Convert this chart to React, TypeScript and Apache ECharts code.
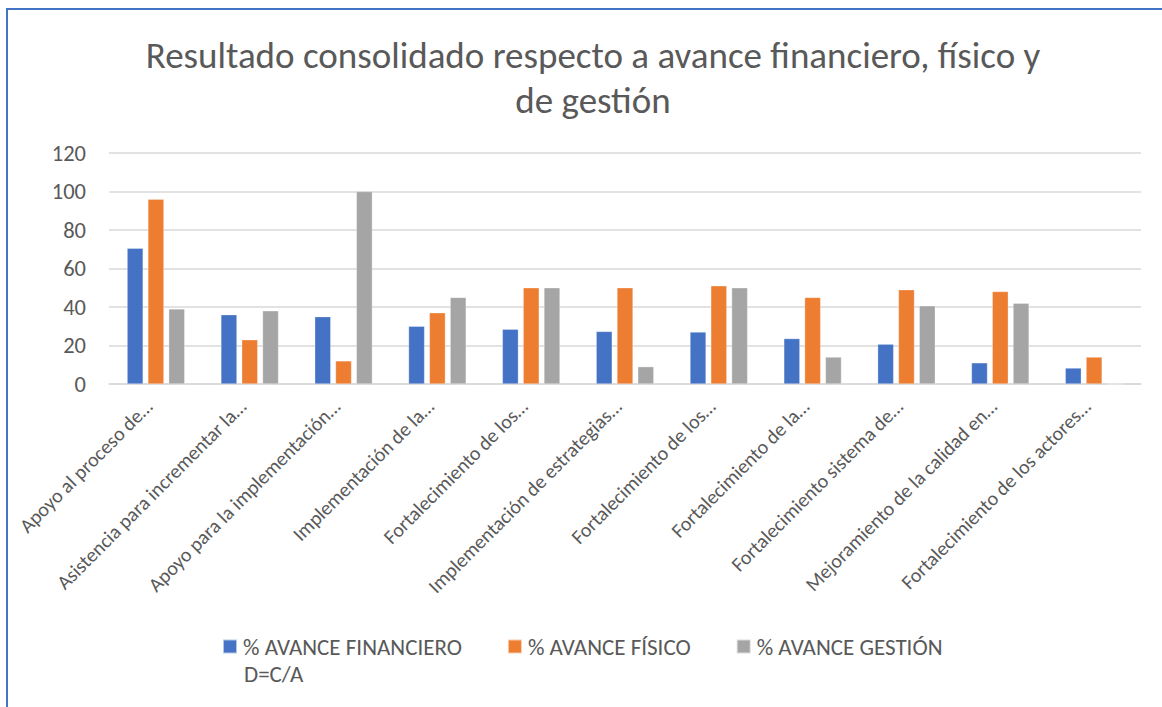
import React, { useEffect, useRef } from "react";
import * as echarts from "echarts";

const categories = [
  "Apoyo al proceso de…",
  "Asistencia para incrementar la…",
  "Apoyo para la implementación…",
  "Implementación de la…",
  "Fortalecimiento de los…",
  "Implementación de estrategias…",
  "Fortalecimiento de los…",
  "Fortalecimiento de la…",
  "Fortalecimiento sistema de…",
  "Mejoramiento de la calidad en…",
  "Fortalecimiento de los actores…",
];

const financiero = [70.5, 36, 35, 30, 28.5, 27.3, 27, 23.6, 20.7, 11, 8.3];
const fisico = [96, 23, 12, 37, 50, 50, 51, 45, 49, 48, 14];
const gestion = [39, 38, 100, 45, 50, 9, 50, 14, 40.6, 42, 0];

const yTicks = [0, 20, 40, 60, 80, 100, 120];

const seriesNames = ["% AVANCE FINANCIERO", "% AVANCE FÍSICO", "% AVANCE GESTIÓN"];
const colors = ["#4472c4", "#ed7d31", "#a5a5a5"];

const FONT = "Carlito, 'Liberation Sans Narrow', 'Open Sans', sans-serif";

export default function App() {
  const ref = useRef<HTMLDivElement>(null);
  useEffect(() => {
    if (!ref.current) return;
    const chart = echarts.init(ref.current, undefined, { renderer: "svg" });
    const data = [financiero, fisico, gestion];
    chart.setOption({
      animation: false,
      backgroundColor: "#ffffff",
      title: {
        text: "Resultado consolidado respecto a avance financiero, físico y\nde gestión",
        left: 588,
        textAlign: "center",
        top: 28,
        textStyle: {
          fontFamily: FONT,
          fontSize: 37,
          fontWeight: "normal",
          color: "#595959",
          lineHeight: 45,
        },
      },
      legend: {
        left: 217,
        top: 630,
        itemWidth: 14,
        itemHeight: 14,
        itemGap: 45,
        icon: "rect",
        textStyle: { fontFamily: FONT, fontSize: 23, lineHeight: 22, color: "#595959", padding: [0, 0, 0, 1] },
        data: seriesNames,
      },
      graphic: [
        {
          type: "rect",
          shape: { x: 7, y: 9, width: 1200, height: 750 },
          style: { fill: "none", stroke: "#4472c4", lineWidth: 2 },
          silent: true,
        },
        {
          type: "text",
          left: 244,
          top: 662,
          style: { text: "D=C/A", font: `23px ${FONT}`, fill: "#595959" },
        },
      ],
      grid: { left: 109, right: 21, top: 153, bottom: 323 },
      xAxis: {
        type: "category",
        data: categories,
        axisLine: { lineStyle: { color: "#d9d9d9", width: 1.5 } },
        axisTick: { show: false },
        axisLabel: {
          rotate: 45,
          interval: 0,
          margin: 12,
          padding: [0, 10, 0, 0],
          fontFamily: FONT,
          fontSize: 20,
          color: "#595959",
        },
      },
      yAxis: {
        type: "value",
        min: yTicks[0],
        max: yTicks[yTicks.length - 1],
        interval: 20,
        axisLine: { show: false },
        axisTick: { show: false },
        splitLine: { lineStyle: { color: "#d9d9d9", width: 1.5 } },
        axisLabel: { fontFamily: FONT, fontSize: 22.5, color: "#595959", margin: 23 },
      },
      series: seriesNames.map((name, i) => ({
        name,
        type: "bar",
        data: data[i],
        barWidth: 16,
        barGap: "30%",
        itemStyle: { color: colors[i], borderColor: "rgba(255,255,255,0.6)", borderWidth: 0.5 },
      })),
    });
    return () => chart.dispose();
  }, []);
  return (
    <div
      ref={ref}
      style={{ position: "fixed", left: 0, top: 0, width: 1162, height: 707 }}
    />
  );
}
